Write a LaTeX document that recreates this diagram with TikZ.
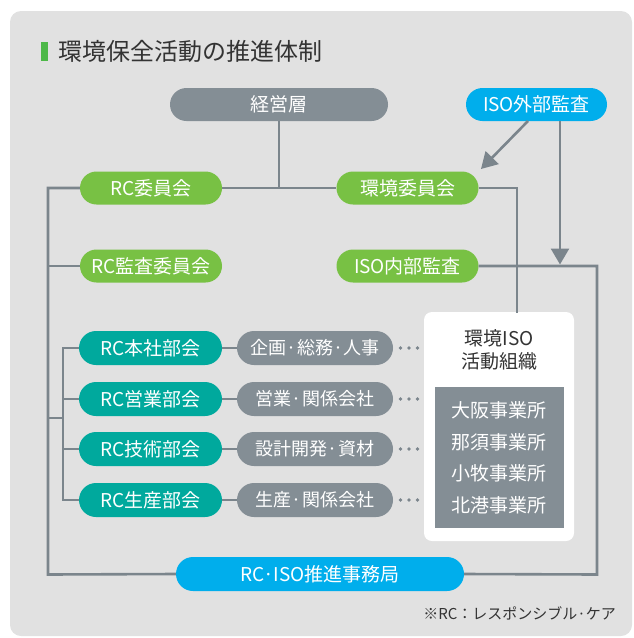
\documentclass[tikz,border=0pt]{standalone}
\usepackage{fontspec}
\setmainfont{Noto Sans CJK JP}
\usetikzlibrary{arrows.meta}
\definecolor{bggray}{HTML}{E1E1E1}
\definecolor{pillgray}{HTML}{848E95}
\definecolor{linegray}{HTML}{7B858C}
\definecolor{pillgreen}{HTML}{78C144}
\definecolor{pillteal}{HTML}{00A99D}
\definecolor{pillcyan}{HTML}{00AEEC}
\definecolor{titlegreen}{HTML}{4DB848}
\definecolor{darktext}{HTML}{333333}
\tikzset{
  pill/.style={rectangle, rounded corners=16.5pt, minimum height=33pt, inner sep=0pt, text=white, font=\fontsize{19}{21}\selectfont},
  gpill/.style={pill, fill=pillgray},
  greenpill/.style={pill, fill=pillgreen, minimum width=142pt},
  tealpill/.style={pill, fill=pillteal, minimum width=143pt, minimum height=34pt, rounded corners=17pt},
  subpill/.style={pill, fill=pillgray, minimum width=156pt, minimum height=34pt, rounded corners=17pt, font=\fontsize{18}{20}\selectfont},
  cyanpill/.style={pill, fill=pillcyan},
  conn/.style={draw=linegray, line width=2.6pt},
  arr/.style={conn, -{Triangle[length=16pt,width=18pt]}},
  plain/.style={inner sep=0pt, font=\fontsize{19}{21}\selectfont},
  dotc/.style={circle, fill=linegray, inner sep=0pt, minimum size=3.6pt},
}
\begin{document}
\begin{tikzpicture}[x=1pt,y=-1pt]
\useasboundingbox (0,0) rectangle (633,638);
\fill[bggray, rounded corners=11pt] (10,11) rectangle (632,636);
% title
\fill[titlegreen] (41,42) rectangle (48,61);
\node[anchor=west, inner sep=0pt, text=darktext, font=\fontsize{24}{26}\selectfont] (title) at (58.5,51) {環境保全活動の推進体制};
% top nodes
\node[gpill, minimum width=218pt] (keiei) at (279,104.5) {経営層};
\node[cyanpill, minimum width=141pt] (isoext) at (536.5,104.5) {ISO外部監査};
\node[greenpill] (rciin) at (151,188) {RC委員会};
\node[greenpill] (kankyo) at (407.5,188) {環境委員会};
\node[greenpill] (rckansa) at (151,266) {RC監査委員会};
\node[greenpill] (isonai) at (407.5,266) {ISO内部監査};
% RC groups
\node[tealpill] (t1) at (150.5,348) {RC本社部会};
\node[tealpill] (t2) at (150.5,399) {RC営業部会};
\node[tealpill] (t3) at (150.5,449) {RC技術部会};
\node[tealpill] (t4) at (150.5,500) {RC生産部会};
\node[subpill] (g1) at (315,348) {企画·総務·人事};
\node[subpill] (g2) at (315,399) {営業·関係会社};
\node[subpill] (g3) at (315,449) {設計開発·資材};
\node[subpill] (g4) at (315,500) {生産·関係会社};
% organization box
\node[fill=white, rounded corners=8pt, minimum width=150pt, minimum height=229pt, inner sep=0pt] (org) at (499,426.5) {};
\node[plain, text=darktext] (orgt1) at (499,338) {環境ISO};
\node[plain, text=darktext] (orgt2) at (499,361) {活動組織};
\node[fill=pillgray, minimum width=129pt, minimum height=141pt, inner sep=0pt] (sites) at (499.5,457.5) {};
\node[plain, text=white] (s1) at (499,410) {大阪事業所};
\node[plain, text=white] (s2) at (499,442) {那須事業所};
\node[plain, text=white] (s3) at (499,473) {小牧事業所};
\node[plain, text=white] (s4) at (499,505) {北港事業所};
% bottom
\node[cyanpill, minimum width=288pt, minimum height=34pt, rounded corners=17pt] (jim) at (320,574) {RC·ISO推進事務局};
\node[anchor=east, inner sep=0pt, text=darktext, font=\fontsize{15}{17}\selectfont] (note) at (616,613) {※RC：レスポンシブル·ケア};
% helper coordinates
\coordinate (Ltop) at (48,188);
\coordinate (Lbot) at (48,574.5);
\coordinate (Rtop) at (597,266);
\coordinate (Rbot) at (597,574.5);
\coordinate (kv) at (517,188);
\coordinate (orgtop) at (517,312.5);
\coordinate (J) at (48,418);
\coordinate (Jb) at (63,418);
\coordinate (Bt) at (63,348);
\coordinate (Bb) at (63,500);
\coordinate (a1s) at (528,121);
\coordinate (a1e) at (481,169);
\coordinate (a2s) at (560,121);
\coordinate (a2e) at (560,264.5);
% connectors
\draw[conn] (keiei.south) -- (keiei.south |- rciin.east);
\draw[conn] (rciin.east) -- (kankyo.west);
\draw[conn] (rciin.west) -- (Ltop) -- (Lbot) -- (jim.west);
\draw[conn] (rckansa.west) -- (rckansa.west -| Ltop);
\draw[conn] (kankyo.east) -- (kv) -- (orgtop);
\draw[conn] (isonai.east) -- (Rtop) -- (Rbot) -- (jim.east);
\draw[conn] (J) -- (Jb);
\draw[conn] (t1.west) -- (Bt) -- (Bb) -- (t4.west);
\draw[conn] (t2.west) -- (t2.west -| Bt);
\draw[conn] (t3.west) -- (t3.west -| Bt);
\draw[conn] (t1.east) -- (g1.west);
\draw[conn] (t2.east) -- (g2.west);
\draw[conn] (t3.east) -- (g3.west);
\draw[conn] (t4.east) -- (g4.west);
\draw[arr] (a1s) -- (a1e);
\draw[arr] (a2s) -- (a2e);
% dots
\foreach \yy/\k in {348/1,399/2,449/3,500/4}{
  \node[dotc] (d\k a) at (400.5,\yy) {};
  \node[dotc] (d\k b) at (409,\yy) {};
  \node[dotc] (d\k c) at (417.5,\yy) {};
}
\end{tikzpicture}
\end{document}
